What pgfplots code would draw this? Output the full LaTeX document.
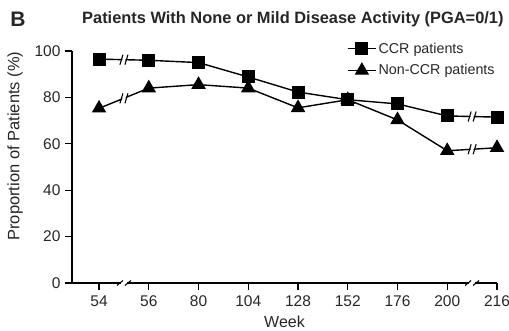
\documentclass[border=0pt]{standalone}
\usepackage{pgfplots}
\pgfplotsset{compat=1.18}
\usepackage{fontspec}
\setmainfont{Liberation Sans}
\newcommand{\brk}[2]{%
 \fill[white] ([xshift=-3pt,yshift=-5pt]axis cs:#1,#2) -- ([xshift=0pt,yshift=5pt]axis cs:#1,#2) -- ([xshift=3pt,yshift=5pt]axis cs:#1,#2) -- ([xshift=0pt,yshift=-5pt]axis cs:#1,#2) -- cycle;
 \draw[line width=1.1pt] ([xshift=-4pt,yshift=-5pt]axis cs:#1,#2) -- ([xshift=-1pt,yshift=5pt]axis cs:#1,#2);
 \draw[line width=1.1pt] ([xshift=1pt,yshift=-5pt]axis cs:#1,#2) -- ([xshift=4pt,yshift=5pt]axis cs:#1,#2);
}
\newcommand{\xbrk}[1]{%
 \fill[white] ([xshift=-3pt,yshift=-2pt]axis cs:#1,0) rectangle ([xshift=3pt,yshift=2pt]axis cs:#1,0);
 \draw[line width=1.1pt] ([xshift=-7pt,yshift=-2.5pt]axis cs:#1,0) -- ([xshift=-1pt,yshift=2.5pt]axis cs:#1,0);
 \draw[line width=1.1pt] ([xshift=1pt,yshift=-2.5pt]axis cs:#1,0) -- ([xshift=7pt,yshift=2.5pt]axis cs:#1,0);
}
\begin{document}
\begin{tikzpicture}
\useasboundingbox (0,0) rectangle (509pt,331pt);
\begin{axis}[
  at={(72pt,48pt)}, anchor=south west,
  scale only axis, width=425pt, height=232pt,
  xmin=-0.544, xmax=8, ymin=0, ymax=100,
  clip=false,
  axis lines=left, axis line style={line width=1.3pt, -},
  tick style={line width=1.3pt, black},
  tick align=outside, major tick length=7pt,
  xtick={0,1,2,3,4,5,6,7,8},
  xticklabels={54,56,80,104,128,152,176,200,216},
  ytick={0,20,40,60,80,100},
  /pgf/number format/assume math mode=true,
  ticklabel style={font=\fontsize{15.5}{18}\selectfont, text=black!85},
  xticklabel style={yshift=-2pt},
  yticklabel style={xshift=-1pt},
  xlabel={Week}, ylabel={Proportion of Patients (\%)},
  xlabel style={font=\fontsize{16}{19}\selectfont, text=black!85, at={(axis description cs:0.5,-0.168)}, anchor=center},
  ylabel style={font=\fontsize{16.5}{19}\selectfont, text=black!85, at={(axis description cs:-0.134,0.59)}, anchor=center, rotate=0},
  legend style={draw=none, fill=none, at={(axis description cs:0.647,1.045)}, anchor=north west,
    font=\fontsize{14.3}{17}\selectfont, text=black!85, row sep=6pt, inner sep=0pt,
    /tikz/every even column/.append style={column sep=2pt}},
  legend cell align=left,
  legend image code/.code={\draw[#1,mark repeat=2,mark phase=2] plot coordinates {(0pt,0pt)(14pt,0pt)(28pt,0pt)};},
]
\addplot[black, line width=1.4pt, mark=square*, mark size=5.8pt, mark options={solid}]
 coordinates {(0,96.5)(1,96)(2,95)(3,88.8)(4,82.3)(5,79)(6,77.2)(7,72)(8,71.5)};
\addlegendentry{CCR patients}
\addplot[black, line width=1.4pt, mark=triangle*, mark size=7pt, mark options={solid}]
 coordinates {(0,75.3)(1,84)(2,85.5)(3,84)(4,75.5)(5,79)(6,70.3)(7,57)(8,58.3)};
\addlegendentry{Non-CCR patients}
\brk{0.5}{96.25}
\brk{0.5}{79.6}
\brk{7.5}{71.75}
\brk{7.5}{57.65}
\xbrk{0.5}
\xbrk{7.5}
\end{axis}
\node[font=\bfseries\fontsize{21}{24}\selectfont, text=black!85] at (18pt,312pt) {B};
\node[font=\bfseries\fontsize{16.4}{19}\selectfont, text=black!85, anchor=west, inner sep=0pt] at (82pt,312pt) {Patients With None or Mild Disease Activity (PGA=0/1)};
\end{tikzpicture}
\end{document}
